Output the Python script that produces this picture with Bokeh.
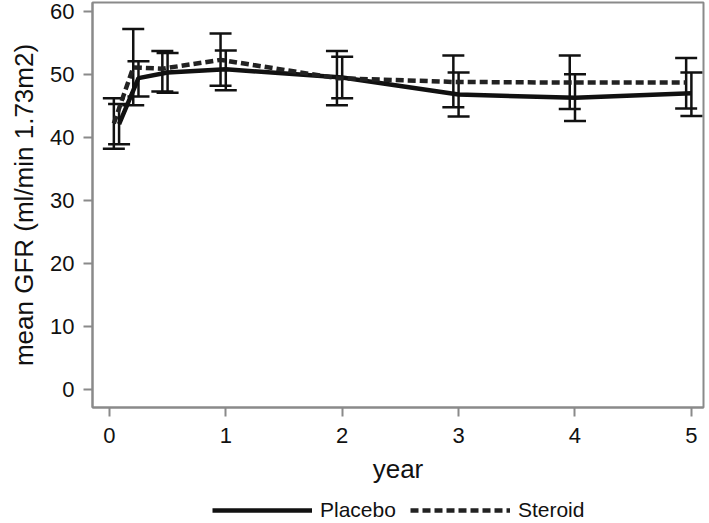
from bokeh.plotting import figure
from bokeh.layouts import column
from bokeh.models import (ColumnDataSource, Whisker, TeeHead, Legend, LegendItem,
                          FixedTicker, Range1d)
from bokeh.transform import dodge
from bokeh.embed import file_html
from bokeh.resources import INLINE

# ---- data ----
years = [1/12, 0.25, 0.5, 1, 2, 3, 4, 5]
placebo_mean = [42.1, 49.4, 50.3, 50.8, 49.5, 46.8, 46.3, 47.0]
placebo_lower = [38.9, 46.5, 47.1, 47.5, 46.2, 43.3, 42.6, 43.4]
placebo_upper = [45.3, 52.1, 53.4, 53.8, 52.8, 50.3, 50.0, 50.3]
steroid_mean = [42.2, 51.1, 50.9, 52.3, 49.4, 48.8, 48.7, 48.7]
steroid_lower = [38.2, 45.1, 47.3, 48.2, 45.1, 44.8, 44.5, 44.6]
steroid_upper = [46.2, 57.2, 53.7, 56.5, 53.7, 53.0, 53.0, 52.6]
x_ticks = [0, 1, 2, 3, 4, 5]
y_ticks = [0, 10, 20, 30, 40, 50, 60]
series_names = ["Placebo", "Steroid"]

FONT = "Liberation Sans"
GRAY = "#8a8a8a"
INK = "#111111"
INK2 = "#222222"

src_p = ColumnDataSource(dict(t=years, m=placebo_mean, lo=placebo_lower, hi=placebo_upper))
src_s = ColumnDataSource(dict(t=years, m=steroid_mean, lo=steroid_lower, hi=steroid_upper))

p = figure(frame_width=611, frame_height=405, output_backend="svg", toolbar_location=None,
           x_range=Range1d(-0.145, 5.104), y_range=Range1d(-2.84, 61.4),
           min_border_left=92, min_border_right=4, min_border_top=2, min_border_bottom=88)

p.xgrid.visible = False
p.ygrid.visible = False
p.outline_line_color = GRAY
p.outline_line_width = 2
p.background_fill_color = "white"
p.border_fill_color = "white"

for ax in (p.xaxis[0], p.yaxis[0]):
    ax.axis_line_color = GRAY
    ax.axis_line_width = 2
    ax.major_tick_line_color = GRAY
    ax.major_tick_line_width = 2
    ax.major_tick_out = 9
    ax.major_tick_in = 0
    ax.minor_tick_line_color = None
    ax.major_label_text_font = FONT
    ax.major_label_text_font_size = "22px"
    ax.major_label_text_color = INK
    ax.axis_label_text_font = FONT
    ax.axis_label_text_font_size = "26px"
    ax.axis_label_text_font_style = "normal"
    ax.axis_label_text_color = INK
    ax.major_label_standoff = 9
    ax.axis_label_standoff = 8

p.xaxis[0].major_label_standoff = 11
p.xaxis.ticker = FixedTicker(ticks=x_ticks)
p.yaxis.ticker = FixedTicker(ticks=y_ticks)
p.xaxis.axis_label = "year"
p.yaxis.axis_label = "mean GFR (ml/min 1.73m2)"

# error bars (steroid dodged slightly to the left)
head = dict(size=22, line_color=INK, line_width=2.5)
wp = Whisker(source=src_p, base="t", lower="lo", upper="hi",
             line_color=INK, line_width=2.5,
             upper_head=TeeHead(**head), lower_head=TeeHead(**head))
ws = Whisker(source=src_s, base=dodge("t", -0.045), lower="lo", upper="hi",
             line_color=INK, line_width=2.5,
             upper_head=TeeHead(**head), lower_head=TeeHead(**head))
p.add_layout(wp)
p.add_layout(ws)

p.line(x="t", y="m", source=src_p, line_color=INK, line_width=4.5)
p.line(x=dodge("t", -0.045), y="m", source=src_s, line_color=INK2,
       line_width=4.5, line_dash="8 4")

# legend strip below the plot (its lines lie outside its ranges, only the legend shows)
lf = figure(width=707, height=28, output_backend="svg", toolbar_location=None,
            x_range=Range1d(100, 101), y_range=Range1d(100, 101),
            min_border_left=0, min_border_right=0, min_border_top=0, min_border_bottom=0)
lf.axis.visible = False
lf.grid.visible = False
lf.outline_line_color = None
lf.background_fill_color = "white"
lf.border_fill_color = "white"
lr_p = lf.line(x="t", y="m", source=src_p, line_color=INK, line_width=4.5)
lr_s = lf.line(x="t", y="m", source=src_s, line_color=INK2, line_width=4.5, line_dash="8 4")
legend = Legend(items=[LegendItem(label=series_names[0], renderers=[lr_p]),
                       LegendItem(label=series_names[1], renderers=[lr_s])],
                orientation="horizontal", location=(120, 1),
                glyph_width=100, glyph_height=20, label_standoff=8, spacing=14,
                label_text_font=FONT, label_text_font_size="21px",
                label_text_color=INK, border_line_color=None,
                background_fill_alpha=0, padding=0, margin=0)
lf.add_layout(legend, "center")

layout = column(p, lf, spacing=0)
open("out.html", "w").write(file_html(layout, INLINE))
